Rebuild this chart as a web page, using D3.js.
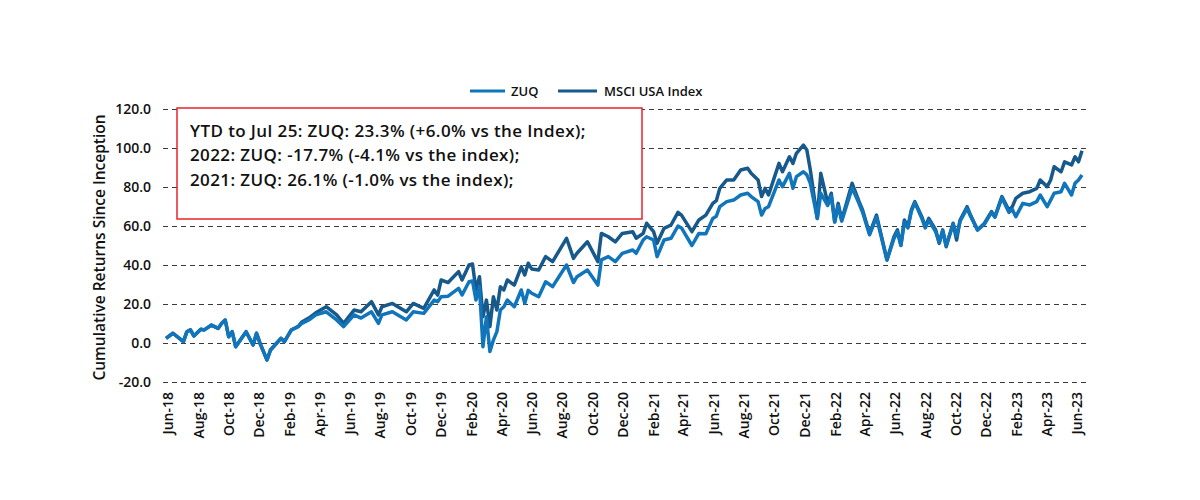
<!DOCTYPE html>
<html><head><meta charset="utf-8">
<script src="https://cdn.jsdelivr.net/npm/d3@7"></script>
<style>
body{margin:0;background:#fff;}
svg{display:block;}
text{font-family:"Open Sans",sans-serif;fill:#111;}
</style>
</head><body>
<svg id="chart" width="1200" height="500"></svg>
<script>
// ---- data ----
const seriesNames = ["ZUQ", "MSCI USA Index"];
const firstWeek = "2018-05-28";
const weekIndex = [
  0,2,5,6,7,8,10,11,13,15,
  16,17,18,19,20,23,25,26,27,29,
  30,33,34,36,38,39,41,43,46,49,
  51,54,56,59,61,62,65,69,71,74,
  77,78,79,81,84,85,87,88,89,90,
  91,92,93,94,95,96,97,98,100,102,
  103,104,105,107,109,111,115,117,118,121,
  124,125,127,129,131,134,135,137,138,140,
  141,143,145,147,148,151,153,155,157,158,
  159,161,163,165,167,168,170,171,172,173,
  176,177,179,180,181,183,184,185,187,188,
  190,191,192,193,194,197,199,200,202,204,
  207,209,210,211,212,213,214,215,217,218,
  219,221,222,223,224,226,227,228,230,231,
  233,235,237,238,240,242,243,244,246,248,
  250,251,253,254,255,257,258,260,261,262,263
];
const msciValues = [
  2.4,5.0,0.7,5.8,6.7,3.6,7.0,6.7,9.2,7.5,
  10.1,11.8,3.2,5.8,-1.9,5.8,-1.0,5.0,-0.2,-8.7,
  -3.6,2.4,0.7,6.7,8.6,10.8,12.8,15.5,18.6,14.4,
  10.1,16.9,16.0,21.2,14.4,18.6,20.3,16.0,20.3,17.8,
  27.2,24.6,32.3,31.0,36.6,32.3,40.0,40.5,27.2,34.0,
  13.5,22.0,8.4,23.7,16.9,28.9,27.2,32.3,29.7,39.1,
  34.9,40.9,38.0,37.4,44.3,41.7,53.7,43.4,46.0,51.9,
  41.7,56.2,54.5,51.9,56.2,57.1,53.7,56.2,61.4,57.1,
  51.1,58.8,60.5,67.0,65.6,57.1,63.1,65.6,71.6,73.0,
  79.3,83.6,83.6,88.7,89.6,87.0,83.6,75.1,79.3,75.9,
  92.1,87.8,95.5,92.1,97.3,101.5,99.0,88.7,63.9,87.0,
  71.6,76.8,62.2,71.6,63.1,81.9,72.5,68.2,56.2,65.6,
  42.6,54.5,58.0,50.3,63.1,59.6,68.2,72.5,64.8,59.6,
  63.9,58.0,51.1,58.0,49.4,61.4,52.8,63.1,69.9,65.6,
  58.0,61.4,67.4,64.8,75.1,68.2,69.9,74.2,76.8,77.6,
  79.3,83.6,80.2,83.6,90.4,87.8,92.9,91.3,95.5,92.9,98.6
];
const zuqValues = [
  2.4,5.0,0.7,5.8,6.7,3.6,7.0,6.7,9.2,7.5,
  10.1,11.8,3.2,5.8,-1.9,5.8,-1.0,5.0,-0.2,-8.7,
  -3.6,2.4,0.7,6.7,8.4,10.1,11.8,14.4,16.0,11.8,
  8.4,14.4,12.8,16.0,10.1,14.4,16.0,11.8,16.0,15.2,
  22.0,21.2,23.7,24.0,28.0,24.6,31.4,31.8,22.0,28.9,
  -1.9,13.5,-4.4,1.5,5.8,16.9,18.6,22.0,18.6,27.2,
  20.3,27.0,25.5,23.7,31.4,28.9,40.0,31.0,34.0,37.4,
  29.7,42.6,44.3,41.7,46.0,47.7,46.0,52.8,54.5,52.8,
  44.3,52.8,53.7,60.0,59.0,50.0,56.2,56.0,63.9,65.0,
  69.9,72.5,73.3,75.9,76.8,75.1,72.5,65.6,69.0,69.9,
  83.6,80.2,87.0,79.3,85.3,87.8,86.2,81.9,63.9,76.8,
  70.5,75.5,62.0,70.5,62.5,79.5,71.5,67.0,55.5,64.5,
  42.6,53.5,57.0,50.0,62.0,59.0,67.5,72.0,64.0,59.0,
  63.0,57.0,51.5,57.5,50.0,61.0,55.0,62.5,69.0,65.0,
  58.0,61.0,67.0,64.5,74.5,67.0,68.5,64.8,71.6,70.8,
  72.5,75.9,69.9,73.3,76.8,77.6,81.9,75.9,81.9,83.6,86.2
];
const yTickValues = [-20, 0, 20, 40, 60, 80, 100, 120];
const xTickLabels = ["Jun-18","Aug-18","Oct-18","Dec-18","Feb-19","Apr-19","Jun-19","Aug-19","Oct-19","Dec-19",
  "Feb-20","Apr-20","Jun-20","Aug-20","Oct-20","Dec-20","Feb-21","Apr-21","Jun-21","Aug-21",
  "Oct-21","Dec-21","Feb-22","Apr-22","Jun-22","Aug-22","Oct-22","Dec-22","Feb-23","Apr-23","Jun-23"];
const yAxisTitle = "Cumulative Returns Since Inception";
const noteLines = [
  "YTD to Jul 25: ZUQ: 23.3% (+6.0% vs the Index);",
  "2022: ZUQ: -17.7% (-4.1% vs the index);",
  "2021: ZUQ: 26.1% (-1.0% vs the index);"
];
const colors = {"ZUQ": "#1175bb", "MSCI USA Index": "#17598b"};

// ---- build ----
const FONT = '"Open Sans",sans-serif';
const start = d3.timeParse("%Y-%m-%d")(firstWeek);
const dates = weekIndex.map(w => d3.timeWeek.offset(start, w));
const series = [
  {name: "MSCI USA Index", values: msciValues},
  {name: "ZUQ", values: zuqValues}
];

const svg = d3.select("#chart");
const plot = {left: 166, right: 1082, top: 109, bottom: 382};
const gridLeft = 163, gridRight = 1090;

const x = d3.scaleTime().domain([dates[0], dates[dates.length - 1]]).range([plot.left, plot.right]);
const y = d3.scaleLinear().domain([-20, 120]).range([plot.bottom, plot.top]);

// y axis + grid
const yAxis = d3.axisLeft(y).tickValues(yTickValues).tickFormat(d => d.toFixed(1))
  .tickSize(-(gridRight - gridLeft)).tickPadding(12);
const gy = svg.append("g").attr("transform", `translate(${gridLeft},0)`).call(yAxis);
gy.select(".domain").remove();
gy.selectAll(".tick line").attr("stroke", "#3a3a3a").attr("stroke-width", 1).attr("stroke-dasharray", "5,4");
gy.selectAll(".tick text").attr("font-size", 14).attr("font-weight", 600).attr("fill", "#111").style("font-family", FONT);

// x axis
const parseLabel = d3.timeParse("%b-%y");
const xTickDates = xTickLabels.map(parseLabel);
const xAxis = d3.axisBottom(x).tickValues(xTickDates).tickFormat(d3.timeFormat("%b-%y")).tickSize(0);
const gx = svg.append("g").attr("transform", `translate(0,${plot.bottom})`).call(xAxis);
gx.select(".domain").remove();
gx.selectAll(".tick text")
  .attr("transform", "rotate(-90)")
  .attr("text-anchor", "end")
  .attr("x", -10).attr("y", 0).attr("dy", "0.35em")
  .attr("font-size", 14).attr("font-weight", 600).attr("fill", "#111")
  .style("font-family", FONT);

// y title
svg.append("text")
  .attr("transform", `translate(100,${(plot.top + plot.bottom) / 2 + 2}) rotate(-90)`)
  .attr("text-anchor", "middle")
  .attr("dy", "0.35em")
  .attr("font-size", 15.5).attr("font-weight", 600)
  .text(yAxisTitle);

// lines
const line = d3.line().x((d, i) => x(dates[i])).y(d => y(d));
svg.append("g").selectAll("path").data(series).join("path")
  .attr("d", s => line(s.values))
  .attr("fill", "none")
  .attr("stroke", s => colors[s.name])
  .attr("stroke-width", 3.5)
  .attr("stroke-linejoin", "round");

// annotation box
const note = svg.append("g");
note.append("rect").attr("x", 177).attr("y", 108).attr("width", 465).attr("height", 111)
  .attr("fill", "#fff").attr("stroke", "#e8232b").attr("stroke-width", 1.5);
note.selectAll("text").data(noteLines).join("text")
  .attr("x", 190).attr("y", (d, i) => 131 + i * 24.5).attr("dy", "0.35em")
  .attr("font-size", 17).attr("font-weight", 600).attr("letter-spacing", 0.4).text(d => d);

// legend
const legendItems = [{name: "ZUQ", x: 470}, {name: "MSCI USA Index", x: 558}];
const lg = svg.append("g").selectAll("g").data(legendItems).join("g")
  .attr("transform", d => `translate(${d.x},91)`);
lg.append("line").attr("x1", 0).attr("x2", d => d.name === "ZUQ" ? 35 : 39).attr("y1", 0).attr("y2", 0)
  .attr("stroke", d => colors[d.name]).attr("stroke-width", 3);
lg.append("text").attr("x", d => d.name === "ZUQ" ? 41 : 46).attr("dy", "0.35em")
  .attr("font-size", 13).attr("font-weight", 600).text(d => d.name);
</script>
</body></html>
